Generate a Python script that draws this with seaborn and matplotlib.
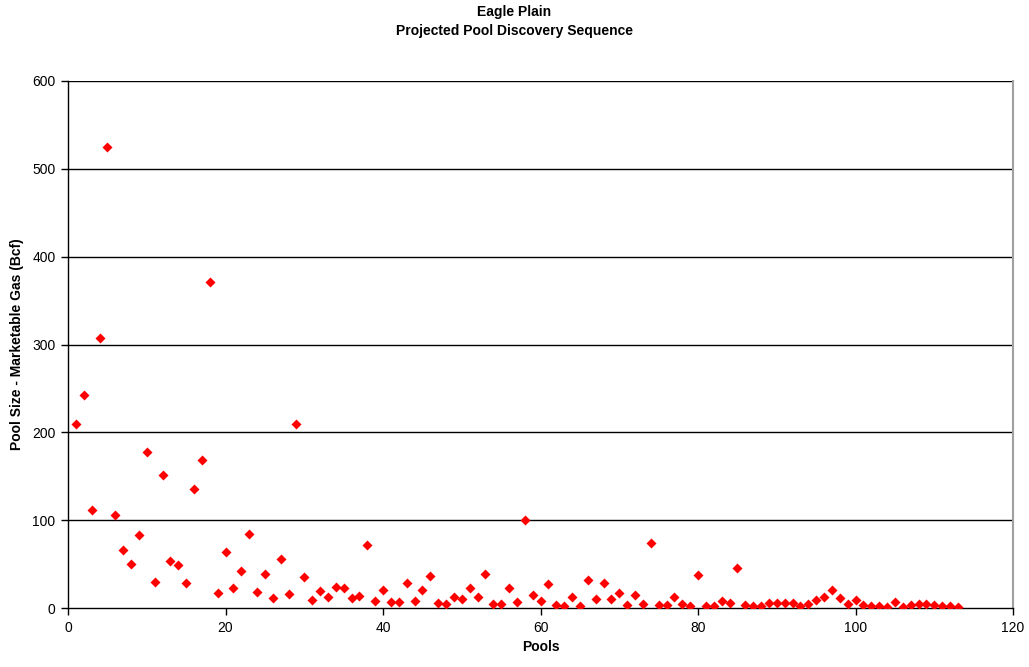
import numpy as np
import pandas as pd
import matplotlib
matplotlib.use("Agg")
import matplotlib.pyplot as plt
import seaborn as sns

# Pool sizes (Bcf of marketable gas) in projected discovery order
pool_sizes = [
    209, 242, 112, 307, 525, 106, 66, 50, 83, 178,
    30, 151, 53, 49, 29, 135, 168, 371, 17, 64,
    23, 42, 84, 18, 39, 11, 56, 16, 209, 35,
    9, 19, 13, 24, 23, 11, 14, 72, 8, 21,
    7, 7, 28, 8, 21, 36, 6, 5, 13, 10,
    23, 13, 39, 4, 4, 23, 7, 100, 15, 8,
    27, 3, 2, 13, 2, 32, 10, 28, 10, 17,
    3, 15, 5, 74, 3, 3, 13, 5, 2, 38,
    2, 2, 8, 6, 45, 3, 2, 2, 6, 6,
    6, 6, 2, 5, 9, 13, 20, 11, 4, 9,
    3, 2, 2, 1, 7, 1, 3, 4, 5, 3,
    2, 2, 1,
]
pool_numbers = list(range(1, len(pool_sizes) + 1))

x_ticks = [0, 20, 40, 60, 80, 100, 120]
y_ticks = [0, 100, 200, 300, 400, 500, 600]

df = pd.DataFrame({"Pools": pool_numbers, "Size": pool_sizes})

sns.set_theme(style="white")
plt.rcParams["font.family"] = ["Liberation Sans", "DejaVu Sans"]
plt.rcParams["text.color"] = "black"
plt.rcParams["axes.labelcolor"] = "black"
plt.rcParams["xtick.color"] = "black"
plt.rcParams["ytick.color"] = "black"

fig = plt.figure(figsize=(10.29, 6.67), dpi=100)
ax = fig.add_axes([68 / 1029, 59 / 667, 945 / 1029, 527 / 667])

sns.scatterplot(data=df, x="Pools", y="Size", ax=ax, marker="D",
                color="#ff0000", edgecolor="#ff0000", s=26, linewidth=0,
                zorder=3)

ax.set_xlim(0, 120)
ax.set_ylim(0, 600)
ax.set_xticks(x_ticks)
ax.set_yticks(y_ticks)
ax.tick_params(axis="both", which="major", labelsize=10, length=5,
               width=1, direction="out", color="black", labelcolor="black",
               pad=4, bottom=True, left=True)

for y in y_ticks[1:]:
    ax.axhline(y, color="black", linewidth=1, zorder=1)

for side in ["left", "bottom"]:
    ax.spines[side].set_color("black")
    ax.spines[side].set_linewidth(1)
ax.spines["top"].set_visible(False)
ax.spines["right"].set_color("#a0a0a0")
ax.spines["right"].set_linewidth(1.5)

ax.set_xlabel("Pools", fontsize=10, fontweight="bold", labelpad=4,
              color="black")
ax.set_ylabel("Pool Size - Marketable Gas (Bcf)", fontsize=10,
              fontweight="bold", labelpad=6, color="black")

fig.text(0.5, 1 - 12 / 667, "Eagle Plain", ha="center", va="center",
         fontsize=10, fontweight="bold", color="black")
fig.text(0.5, 1 - 31 / 667, "Projected Pool Discovery Sequence",
         ha="center", va="center", fontsize=10, fontweight="bold",
         color="black")

fig.savefig("out.png", dpi=100)
